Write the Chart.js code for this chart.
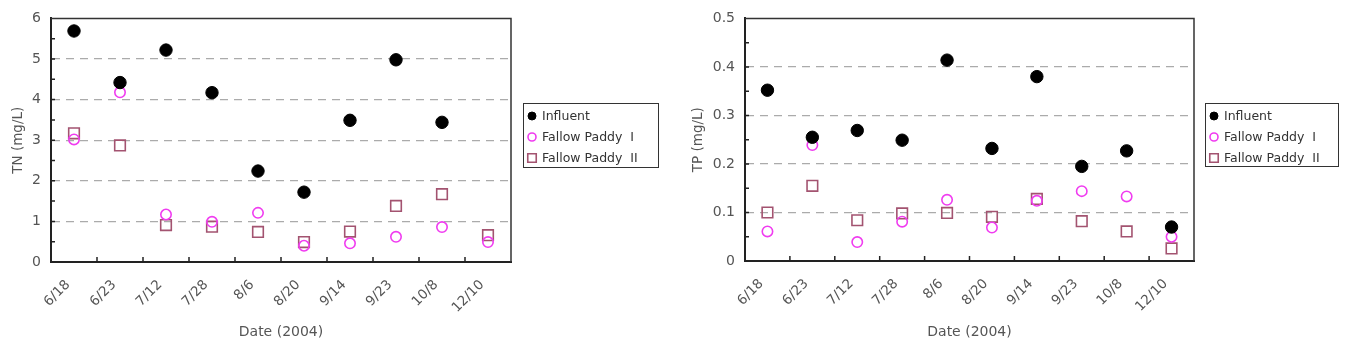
<!DOCTYPE html>
<html>
<head>
<meta charset="utf-8">
<script src="https://cdn.jsdelivr.net/npm/chart.js@4.4.0/dist/chart.umd.min.js"></script>
<style>
  html, body { margin: 0; padding: 0; background: #fff; }
  .wrap { display: flex; width: 1346px; height: 344px; }
  .box { position: relative; width: 673px; height: 344px; }
</style>
</head>
<body>
<div class="wrap">
  <div class="box"><canvas id="chart-tn"></canvas></div>
  <div class="box"><canvas id="chart-tp"></canvas></div>
</div>
<script>
const dates = ['6/18', '6/23', '7/12', '7/28', '8/6', '8/20', '9/14', '9/23', '10/8', '12/10'];

const tnInfluent = [5.69, 4.42, 5.22, 4.17, 2.24, 1.72, 3.49, 4.98, 3.44, null];
const tnPaddy1 = [3.02, 4.18, 1.17, 0.99, 1.21, 0.40, 0.46, 0.62, 0.86, 0.49];
const tnPaddy2 = [3.17, 2.87, 0.91, 0.87, 0.74, 0.49, 0.75, 1.38, 1.67, 0.66];

const tpInfluent = [0.352, 0.255, 0.269, 0.249, 0.414, 0.232, 0.380, 0.195, 0.227, 0.070];
const tpPaddy1 = [0.061, 0.239, 0.039, 0.081, 0.126, 0.069, 0.124, 0.144, 0.133, 0.050];
const tpPaddy2 = [0.100, 0.155, 0.084, 0.098, 0.099, 0.091, 0.128, 0.082, 0.061, 0.026];

const seriesNames = ['Influent', 'Fallow Paddy  I', 'Fallow Paddy  II'];

const FONT = 'DejaVu Sans';
const TEXT = '#555';
const MAGENTA = '#f03cf0';
const MAUVE = '#a35370';

// frame, inner tick marks and boxed legend
const framePlugin = {
  id: 'frame',
  beforeDatasetsDraw(chart, args, opts) {
    const ctx = chart.ctx;
    const a = chart.chartArea;
    const xs = chart.scales.x, ys = chart.scales.y;
    ctx.save();
    ctx.strokeStyle = '#333';
    ctx.lineWidth = 1.5;
    ctx.beginPath();
    ctx.moveTo(a.left, a.top);
    ctx.lineTo(a.right, a.top);
    ctx.lineTo(a.right, a.bottom);
    ctx.stroke();
    ctx.strokeStyle = '#222';
    ctx.lineWidth = 1.5;
    ctx.beginPath();
    for (let i = 1; i < dates.length; i++) {
      const x = (xs.getPixelForValue(i - 1) + xs.getPixelForValue(i)) / 2;
      ctx.moveTo(x, a.bottom);
      ctx.lineTo(x, a.bottom - 5);
    }
    for (let k = 1; k * opts.minor < ys.max - 1e-9; k++) {
      const y = ys.getPixelForValue(k * opts.minor);
      ctx.moveTo(a.left, y);
      ctx.lineTo(a.left + 4, y);
    }
    ctx.stroke();
    ctx.restore();
  },
  afterDraw(chart, args, opts) {
    const ctx = chart.ctx;
    const lg = opts.legend;
    ctx.save();
    ctx.strokeStyle = '#333';
    ctx.lineWidth = 1;
    ctx.strokeRect(lg.x + 0.5, lg.y + 0.5, lg.w, lg.h);
    ctx.font = '12.5px ' + FONT;
    ctx.textBaseline = 'middle';
    chart.data.datasets.forEach((ds, i) => {
      const y = lg.y + 13 + i * 21;
      ctx.fillStyle = ds.backgroundColor;
      ctx.strokeStyle = ds.borderColor;
      ctx.lineWidth = ds.borderWidth;
      Chart.helpers.drawPoint(ctx, {
        pointStyle: ds.pointStyle,
        radius: ds.pointStyle === 'rect' ? 6 : 4,
        borderWidth: ds.borderWidth,
        rotation: 0
      }, lg.x + 9, y);
      ctx.fillStyle = '#333';
      ctx.fillText(ds.label, lg.x + 19, y + 1);
    });
    ctx.restore();
  }
};

function makeChart(id, values, cfg) {
  return new Chart(document.getElementById(id), {
    type: 'line',
    data: {
      labels: dates,
      datasets: [{
        label: seriesNames[0],
        data: values[0],
        pointStyle: 'circle',
        pointRadius: 6.2,
        backgroundColor: '#000',
        borderColor: '#000',
        borderWidth: 1
      }, {
        label: seriesNames[1],
        data: values[1],
        pointStyle: 'circle',
        pointRadius: 5.2,
        backgroundColor: 'rgba(0,0,0,0)',
        borderColor: MAGENTA,
        borderWidth: 1.6
      }, {
        label: seriesNames[2],
        data: values[2],
        pointStyle: 'rect',
        pointRadius: 7.5,
        backgroundColor: 'rgba(0,0,0,0)',
        borderColor: MAUVE,
        borderWidth: 1.6
      }]
    },
    options: {
      responsive: false,
      animation: false,
      showLine: false,
      layout: { padding: { left: cfg.padLeft, right: cfg.padRight, top: cfg.padTop, bottom: 0 } },
      plugins: {
        legend: { display: false },
        tooltip: { enabled: false },
        frame: { minor: cfg.minor, legend: cfg.legend }
      },
      scales: {
        x: {
          offset: true,
          grid: { display: false, drawTicks: false },
          border: { color: '#222', width: 2 },
          ticks: {
            autoSkip: false,
            minRotation: 45,
            maxRotation: 45,
            padding: 15,
            labelOffset: cfg.labelOffset,
            color: TEXT,
            font: { family: FONT, size: 13.5 }
          },
          title: {
            display: true,
            text: 'Date (2004)',
            color: TEXT,
            font: { family: FONT, size: 14 },
            padding: { top: 0, bottom: 3 }
          },
          afterFit: s => { s.height = cfg.xHeight; }
        },
        y: {
          min: 0,
          max: cfg.max,
          grid: {
            drawTicks: false,
            color: c => (c.tick.value <= 0 || c.tick.value >= cfg.max - 1e-9) ? 'rgba(0,0,0,0)' : '#ababab',
            lineWidth: 1.2
          },
          border: { color: '#222', width: 2, dash: [8, 6] },
          ticks: {
            stepSize: cfg.step,
            padding: 10,
            color: TEXT,
            font: { family: FONT, size: 14 }
          },
          title: {
            display: true,
            text: cfg.title,
            color: TEXT,
            font: { family: FONT, size: 13.5 },
            padding: 0
          },
          afterFit: s => { s.width = cfg.yWidth; }
        }
      }
    },
    plugins: [framePlugin]
  });
}

for (const id of ['chart-tn', 'chart-tp']) {
  const c = document.getElementById(id);
  c.width = 673; c.height = 344;
}

makeChart('chart-tn', [tnInfluent, tnPaddy1, tnPaddy2], {
  max: 6, step: 1, minor: 0.5, title: 'TN (mg/L)',
  padLeft: 10, padRight: 162, padTop: 10, yWidth: 41, xHeight: 82,
  labelOffset: -6,
  legend: { x: 523, y: 103, w: 135, h: 64 }
});

makeChart('chart-tp', [tpInfluent, tpPaddy1, tpPaddy2], {
  max: 0.5, step: 0.1, minor: 0.05, title: 'TP (mg/L)',
  padLeft: 17, padRight: 152, padTop: 9, yWidth: 55, xHeight: 83,
  labelOffset: -6,
  legend: { x: 532, y: 103, w: 133, h: 63 }
});
</script>
</body>
</html>
